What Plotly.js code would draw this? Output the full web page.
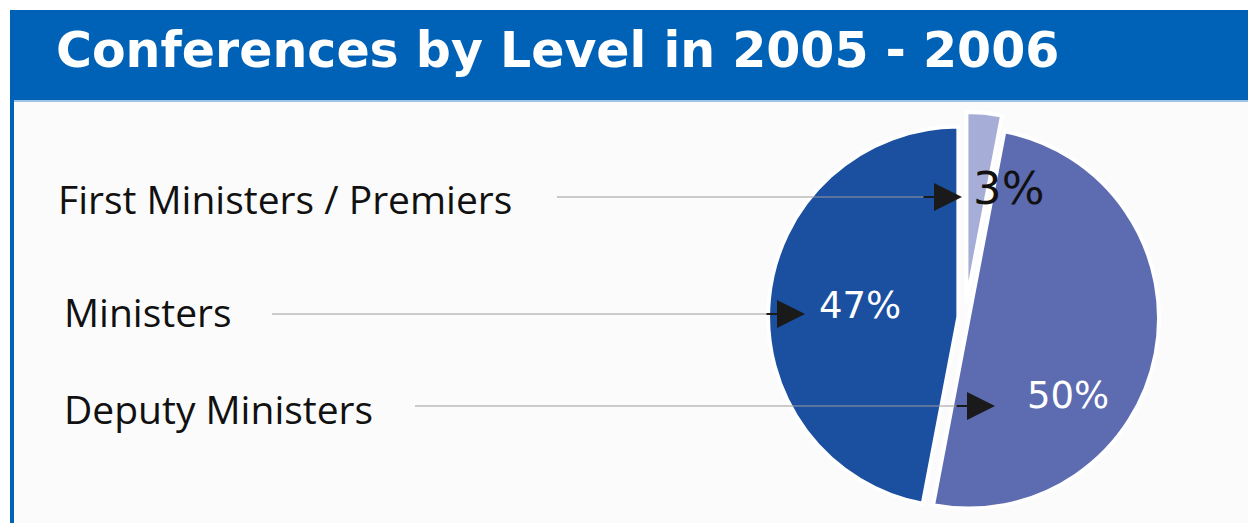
<!DOCTYPE html>
<html>
<head>
<meta charset="utf-8">
<script src="https://cdn.plot.ly/plotly-3.0.1.min.js"></script>
<style>
html,body{margin:0;padding:0;background:#ffffff;}
#chart{width:1248px;height:523px;}
</style>
</head>
<body>
<div id="chart"></div>
<script>
// ---- data ----
const chartTitle = "Conferences by Level in 2005 - 2006";
const levels = ["First Ministers / Premiers", "Ministers", "Deputy Ministers"];
const shares = [3, 47, 50];
const sliceColors = ["#a6add6", "#1b4fa0", "#5d6bb0"];

// ---- layout helpers (pixel -> paper) ----
const W = 1248, H = 523;
const px = x => x / W;
const py = y => 1 - y / H;

// label rows: label x, label y(px), line start x, arrow tip x, arrow y
const rows = {
  "First Ministers / Premiers": {lx: 56, ly: 199, l0: 557, tip: 962, ay: 197},
  "Ministers":                 {lx: 62, ly: 311, l0: 272, tip: 805, ay: 314},
  "Deputy Ministers":          {lx: 62, ly: 408, l0: 415, tip: 995, ay: 406}
};
// percentage label positions and styles
const pctStyle = {
  "First Ministers / Premiers":{x: 1008, y: 188, size: 45, color: "#111111"},
  "Ministers":                 {x: 860, y: 305, size: 37, color: "#ffffff"},
  "Deputy Ministers":          {x: 1068, y: 395, size: 37, color: "#ffffff"}
};

const pie = {
  type: "pie",
  labels: levels,
  values: shares,
  sort: false,
  direction: "counterclockwise",
  rotation: 0,
  pull: [0.08, 0.035, 0.02],
  textinfo: "none",
  hoverinfo: "label+percent",
  marker: {colors: sliceColors, line: {color: "#ffffff", width: 4}},
  domain: {x: [px(755), px(1175)], y: [py(523), py(112)]},
  showlegend: false
};

const shapes = [
  // header band
  {type: "rect", xref: "paper", yref: "paper", x0: px(10), x1: 1, y0: py(100), y1: py(10),
   fillcolor: "#0062b6", line: {width: 0}, layer: "below"},
  {type: "line", xref: "paper", yref: "paper", x0: px(14), x1: 1, y0: py(101), y1: py(101),
   line: {color: "#7fb0dc", width: 1.5}, layer: "below"},
  // left border
  {type: "rect", xref: "paper", yref: "paper", x0: px(10), x1: px(14), y0: 0, y1: py(100),
   fillcolor: "#0062b6", line: {width: 0}, layer: "below"},
  // content background
  {type: "rect", xref: "paper", yref: "paper", x0: px(14), x1: 1, y0: 0, y1: py(102),
   fillcolor: "#fbfbfb", line: {width: 0}, layer: "below"}
];

const annotations = [];
levels.forEach((lab, i) => {
  const r = rows[lab];
  annotations.push({
    xref: "paper", yref: "paper", x: px(r.lx), y: py(r.ly), xanchor: "left", yanchor: "middle",
    text: lab, showarrow: false,
    font: {family: "Open Sans, Noto Sans, sans-serif", size: 39, color: "#111111"}
  });
  shapes.push({type: "line", xref: "paper", yref: "paper", layer: "above",
    x0: px(r.l0), x1: px(r.tip - 30), y0: py(r.ay), y1: py(r.ay),
    line: {color: "#9a9a9a", width: 1.2}});
  annotations.push({
    xref: "paper", yref: "paper", x: px(r.tip), y: py(r.ay), text: "", showarrow: true,
    axref: "pixel", ayref: "pixel", ax: -40, ay: 0,
    arrowhead: 2, arrowsize: 2.8, arrowwidth: 2, arrowcolor: "#1a1a1a", standoff: 0
  });
  const p = pctStyle[lab];
  annotations.push({
    xref: "paper", yref: "paper", x: px(p.x), y: py(p.y), xanchor: "center", yanchor: "middle",
    text: shares[i] + "%", showarrow: false,
    font: {family: "DejaVu Sans, sans-serif", size: p.size, color: p.color}
  });
});

const layout = {
  width: W, height: H,
  margin: {l: 0, r: 0, t: 0, b: 0},
  paper_bgcolor: "#ffffff",
  plot_bgcolor: "#ffffff",
  title: {
    text: "<b>" + chartTitle + "</b>",
    x: px(56), xanchor: "left", xref: "paper",
    y: py(50), yanchor: "middle", yref: "paper",
    font: {family: "DejaVu Sans, sans-serif", size: 49, color: "#ffffff"}
  },
  shapes: shapes,
  annotations: annotations
};

Plotly.newPlot("chart", [pie], layout, {displayModeBar: false, staticPlot: true});
</script>
</body>
</html>
